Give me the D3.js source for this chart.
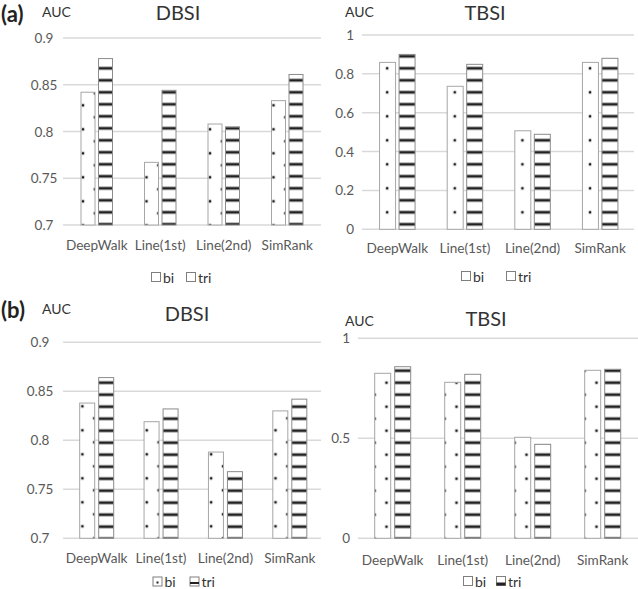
<!DOCTYPE html>
<html><head><meta charset="utf-8">
<script src="https://cdn.jsdelivr.net/npm/d3@7/dist/d3.min.js"></script>
<style>
body{margin:0;background:#fff}
text{font-family:Lato,"Open Sans",sans-serif}
</style>
</head><body>
<svg id="c" width="638" height="589"></svg>
<script>
// ---- data ----
const categories = ["DeepWalk", "Line(1st)", "Line(2nd)", "SimRank"];
const seriesNames = ["bi", "tri"];
const aDbsiBi  = [0.842, 0.767, 0.808, 0.833];
const aDbsiTri = [0.878, 0.844, 0.805, 0.861];
const aTbsiBi  = [0.859, 0.736, 0.507, 0.859];
const aTbsiTri = [0.900, 0.849, 0.489, 0.880];
const bDbsiBi  = [0.838, 0.819, 0.788, 0.830];
const bDbsiTri = [0.864, 0.832, 0.768, 0.842];
const bTbsiBi  = [0.825, 0.780, 0.505, 0.840];
const bTbsiTri = [0.858, 0.820, 0.470, 0.845];
const dbsiTicks  = [0.7, 0.75, 0.8, 0.85, 0.9];
const tbsiTicksA = [0, 0.2, 0.4, 0.6, 0.8, 1];
const tbsiTicksB = [0, 0.5, 1];
const panelTitles = ["DBSI", "TBSI", "DBSI", "TBSI"];
const panelLetters = ["(a)", "(b)"];
const axisTitle = "AUC";

// ---- layout ----
const panels = [
  {bi:aDbsiBi, tri:aDbsiTri, ticks:dbsiTicks, dom:[0.7,0.9], title:panelTitles[0], letter:panelLetters[0],
   xr:[65,319], yr:[225,38], grid:[63,321], tickX:44, tickAnchor:"middle", barW:14, gap:3.5,
   catY:245, legY:277, legX:[151.5,186.5], legStyle:"plain", titleX:178, titleY:12, aucX:42, aucY:11.5, letterY:12,
   dot:{c:11.9,x:85.3,y:93.3}, stripe:{y:68.3}},
  {bi:aTbsiBi, tri:aTbsiTri, ticks:tbsiTicksA, dom:[0,1], title:panelTitles[1],
   xr:[363.5,634], yr:[229.3,35], grid:[362,634], tickX:354, tickAnchor:"end", barW:16, gap:3.5,
   catY:248, legY:276, legX:[461.5,506.5], legStyle:"plain", titleX:485, titleY:12, aucX:345, aucY:11.7,
   dot:{c:13.3,x:380,y:68.3}, stripe:{y:68.3}},
  {bi:bDbsiBi, tri:bDbsiTri, ticks:dbsiTicks, dom:[0.7,0.9], title:panelTitles[2], letter:panelLetters[1],
   xr:[64.5,322], yr:[538.3,342.3], grid:[63,321], tickX:40, tickAnchor:"middle", barW:15, gap:4,
   catY:558, legY:581.5, legX:[153,190], legStyle:"b1", titleX:187, titleY:312.5, aucX:42, aucY:308, letterY:308,
   dot:{c:11.9,x:86,y:418.3}, stripe:{y:382.7}},
  {bi:bTbsiBi, tri:bTbsiTri, ticks:tbsiTicksB, dom:[0,1], title:panelTitles[3],
   xr:[357.7,637.7], yr:[538.3,338.3], grid:[358,638], tickX:350, tickAnchor:"end", barW:16, gap:4,
   catY:560, legY:581, legX:[463.5,496.5], legStyle:"b2", titleX:486, titleY:317.5, aucX:345, aucY:320,
   dot:{c:11.9,x:380.7,y:394.7}, stripe:{y:382.7}}
];

const svg = d3.select("#c");
const defs = svg.append("defs");
const TXT = "#595959";

panels.forEach((p, i) => {
  // dot pattern (bi)
  const dp = defs.append("pattern").attr("id", "dots" + i)
    .attr("patternUnits", "userSpaceOnUse")
    .attr("width", 2 * p.dot.c).attr("height", 24)
    .attr("patternTransform", `translate(${p.dot.x},${p.dot.y})`);
  dp.append("rect").attr("width", 2 * p.dot.c).attr("height", 24).attr("fill", "#fff");
  const dpts = [[0,0],[2 * p.dot.c,0],[0,24],[2 * p.dot.c,24],[p.dot.c,12]];
  dpts.forEach(([dx, dy]) => dp.append("rect").attr("x", dx - 1.25).attr("y", dy - 1.25)
    .attr("width", 2.5).attr("height", 2.5).attr("fill", "#1a1a1a"));
  // stripe pattern (tri)
  const sp = defs.append("pattern").attr("id", "stripes" + i)
    .attr("patternUnits", "userSpaceOnUse")
    .attr("width", 40).attr("height", 12)
    .attr("patternTransform", `translate(0,${p.stripe.y})`);
  sp.append("rect").attr("width", 40).attr("height", 12).attr("fill", "#fff");
  sp.append("rect").attr("y", -1.4).attr("width", 40).attr("height", 2.8).attr("fill", "#222");
  sp.append("rect").attr("y", 10.6).attr("width", 40).attr("height", 2.8).attr("fill", "#222");

  const g = svg.append("g");
  const y = d3.scaleLinear().domain(p.dom).range(p.yr);
  const groupW = 2 * p.barW + p.gap;
  const n = categories.length;
  const step = (p.xr[1] - p.xr[0]) / n;
  const pad = 1 - groupW / step;
  const x0 = d3.scaleBand().domain(categories).range(p.xr).paddingInner(pad).paddingOuter(pad / 2);
  const x1 = d3.scaleBand().domain(seriesNames).range([0, x0.bandwidth()])
    .paddingInner(p.gap / (p.barW + p.gap)).paddingOuter(0);

  // gridlines
  g.selectAll("line.grid").data(p.ticks).join("line")
    .attr("x1", p.grid[0]).attr("x2", p.grid[1])
    .attr("y1", d => y(d)).attr("y2", d => y(d))
    .attr("stroke", "#d9d9d9").attr("stroke-width", 1.5);

  // tick labels
  g.selectAll("text.tick").data(p.ticks).join("text")
    .attr("x", p.tickX).attr("y", d => y(d))
    .attr("text-anchor", p.tickAnchor).attr("dominant-baseline", "central")
    .attr("font-size", 13.5).attr("fill", TXT)
    .text(d => d3.format("")(d));

  // bars
  const rows = categories.map((c, k) => ({cat: c, vals: [p.bi[k], p.tri[k]]}));
  const cg = g.selectAll("g.cat").data(rows).join("g")
    .attr("transform", d => `translate(${x0(d.cat)},0)`);
  cg.selectAll("rect").data(d => d.vals.map((v, s) => ({s: seriesNames[s], v}))).join("rect")
    .attr("x", d => x1(d.s)).attr("width", x1.bandwidth())
    .attr("y", d => y(d.v)).attr("height", d => y(p.dom[0]) - y(d.v))
    .attr("fill", d => d.s === "bi" ? `url(#dots${i})` : `url(#stripes${i})`)
    .attr("stroke", d => d.s === "bi" ? "#a6a6a6" : "#8c8c8c").attr("stroke-width", 1);

  // category labels
  g.selectAll("text.cat").data(categories).join("text")
    .attr("x", d => x0(d) + x0.bandwidth() / 2).attr("y", p.catY)
    .attr("text-anchor", "middle").attr("dominant-baseline", "central")
    .attr("font-size", 13.6).attr("fill", TXT).text(d => d);

  // titles
  g.append("text").attr("x", p.titleX).attr("y", p.titleY)
    .attr("text-anchor", "middle").attr("dominant-baseline", "central")
    .attr("font-size", 20).attr("fill", "#333").text(p.title);
  g.append("text").attr("x", p.aucX).attr("y", p.aucY)
    .attr("dominant-baseline", "central")
    .attr("font-size", 14).attr("fill", "#333").text(axisTitle);
  if (p.letter) {
    g.append("text").attr("x", 1).attr("y", p.letterY + 1)
      .attr("dominant-baseline", "central")
      .attr("font-size", 22).attr("font-weight", "bold").attr("fill", "#222").text(p.letter);
  }

  // legend
  seriesNames.forEach((s, k) => {
    const lx = p.legX[k], ly = p.legY;
    g.append("rect").attr("x", lx).attr("y", ly - 4.5).attr("width", 9).attr("height", 9)
      .attr("fill", "#fff").attr("stroke", "#7f7f7f").attr("stroke-width", 1);
    if (p.legStyle === "b1") {
      if (s === "bi") g.append("rect").attr("x", lx + 3.5).attr("y", ly).attr("width", 2).attr("height", 2).attr("fill", "#222");
      else g.append("rect").attr("x", lx).attr("y", ly + 0.5).attr("width", 9).attr("height", 2).attr("fill", "#222");
    } else if (p.legStyle === "b2" && s === "tri") {
      g.append("rect").attr("x", lx).attr("y", ly + 1.5).attr("width", 9).attr("height", 3).attr("fill", "#222");
    }
    g.append("text").attr("x", lx + 11.5).attr("y", ly)
      .attr("dominant-baseline", "central").attr("font-size", 14).attr("fill", "#333").text(s);
  });
});
</script>
</body></html>
